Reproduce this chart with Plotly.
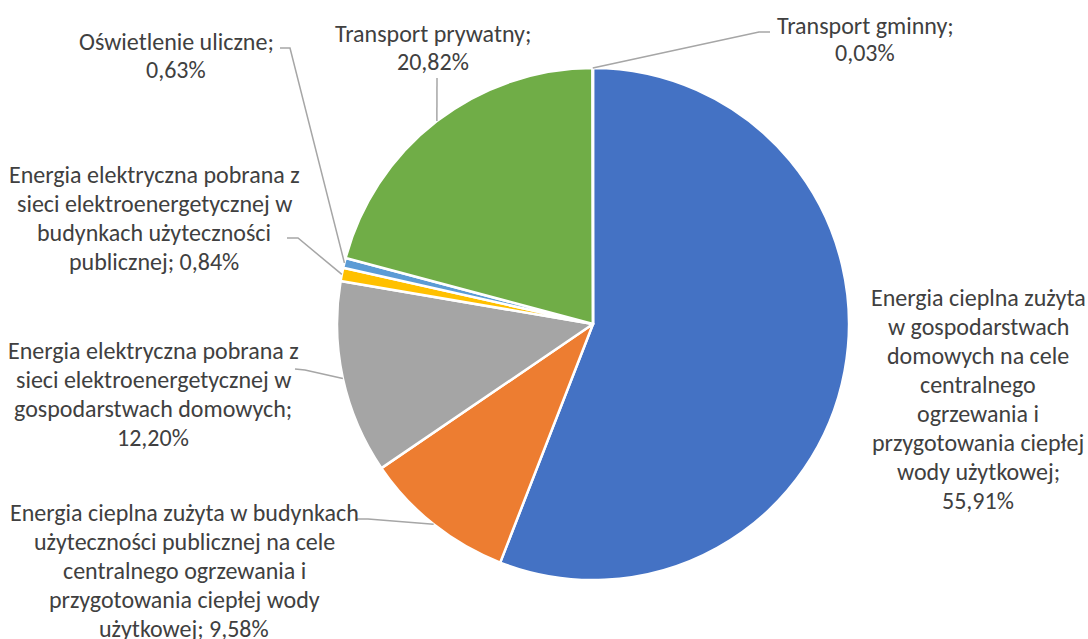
import math
import plotly.graph_objects as go

W, H = 1088, 639

# ---- data ----
labels = [
    "Energia cieplna zużyta w gospodarstwach domowych na cele centralnego ogrzewania i przygotowania ciepłej wody użytkowej",
    "Energia cieplna zużyta w budynkach użyteczności publicznej na cele centralnego ogrzewania i przygotowania ciepłej wody użytkowej",
    "Energia elektryczna pobrana z sieci elektroenergetycznej w gospodarstwach domowych",
    "Energia elektryczna pobrana z sieci elektroenergetycznej w budynkach użyteczności publicznej",
    "Oświetlenie uliczne",
    "Transport prywatny",
    "Transport gminny",
]
values = [55.91, 9.58, 12.20, 0.84, 0.63, 20.82, 0.03]
value_text = ["55,91%", "9,58%", "12,20%", "0,84%", "0,63%", "20,82%", "0,03%"]
colors = ["#4472C4", "#ED7D31", "#A5A5A5", "#FFC000", "#5B9BD5", "#70AD47", "#264478"]

# wrapped label lines (as shown in the chart)
label_lines = [
    ["Energia cieplna zużyta", "w gospodarstwach", "domowych na cele", "centralnego",
     "ogrzewania i", "przygotowania ciepłej", "wody użytkowej;", "55,91%"],
    ["Energia cieplna zużyta w budynkach", "użyteczności publicznej na cele",
     "centralnego ogrzewania i", "przygotowania ciepłej wody", "użytkowej; 9,58%"],
    ["Energia elektryczna pobrana z", "sieci elektroenergetycznej w",
     "gospodarstwach domowych;", "12,20%"],
    ["Energia elektryczna pobrana z", "sieci elektroenergetycznej w",
     "budynkach użyteczności", "publicznej; 0,84%"],
    ["Oświetlenie uliczne;", "0,63%"],
    ["Transport prywatny;", "20,82%"],
    ["Transport gminny;", "0,03%"],
]

# ---- layout (pixels) ----
CX, CY, R = 593, 324, 256
label_pos = [  # center x, first-line y, line spacing
    (978, 297, 29.0),
    (184, 512, 29.0),
    (153, 350, 29.0),
    (154, 175, 28.8),
    (176, 41, 28.0),
    (433, 34, 28.0),
    (865, 25, 28.0),
]
# leader line elbows (label side) per slice, None = no leader
elbows = [
    None,
    [(357, 519), (368, 519)],
    [(295, 369), (305, 370)],
    [(287, 238), (298, 238)],
    [(280, 48), (290, 48)],
    [(437, 78)],
    [(770, 32), (759, 32)],
]

def px(x):
    return x / W

def py(y):
    return 1 - y / H

fig = go.Figure(go.Pie(
    labels=labels, values=values, sort=False, direction="clockwise", rotation=0,
    marker=dict(colors=colors, line=dict(color="white", width=2.5)),
    textinfo="none", hoverinfo="label+percent", showlegend=False,
    domain=dict(x=[px(CX - R), px(CX + R)], y=[py(CY + R), py(CY - R)]),
))

total = sum(values)
cum = 0.0
shapes = []
annotations = []
for i, v in enumerate(values):
    mid = (cum + v / 2) / total * 2 * math.pi
    cum += v
    ex = CX + R * math.sin(mid)
    ey = CY - R * math.cos(mid)
    if elbows[i]:
        pts = elbows[i] + [(ex, ey)]
        path = "M " + " L ".join(f"{px(a):.5f},{py(b):.5f}" for a, b in pts)
        shapes.append(dict(type="path", path=path, xref="paper", yref="paper",
                           line=dict(color="#A6A6A6", width=1.5)))
    cx, y0, dy = label_pos[i]
    for k, line in enumerate(label_lines[i]):
        annotations.append(dict(
            x=px(cx), y=py(y0 + k * dy), xref="paper", yref="paper",
            text=line, showarrow=False, xanchor="center", yanchor="middle",
            font=dict(family="Carlito, Calibri, 'Noto Sans', sans-serif", size=24, color="#404040"),
        ))

fig.update_layout(
    width=W, height=H, margin=dict(l=0, r=0, t=0, b=0),
    paper_bgcolor="white", plot_bgcolor="white",
    shapes=shapes, annotations=annotations,
)
fig.write_html("out.html")
